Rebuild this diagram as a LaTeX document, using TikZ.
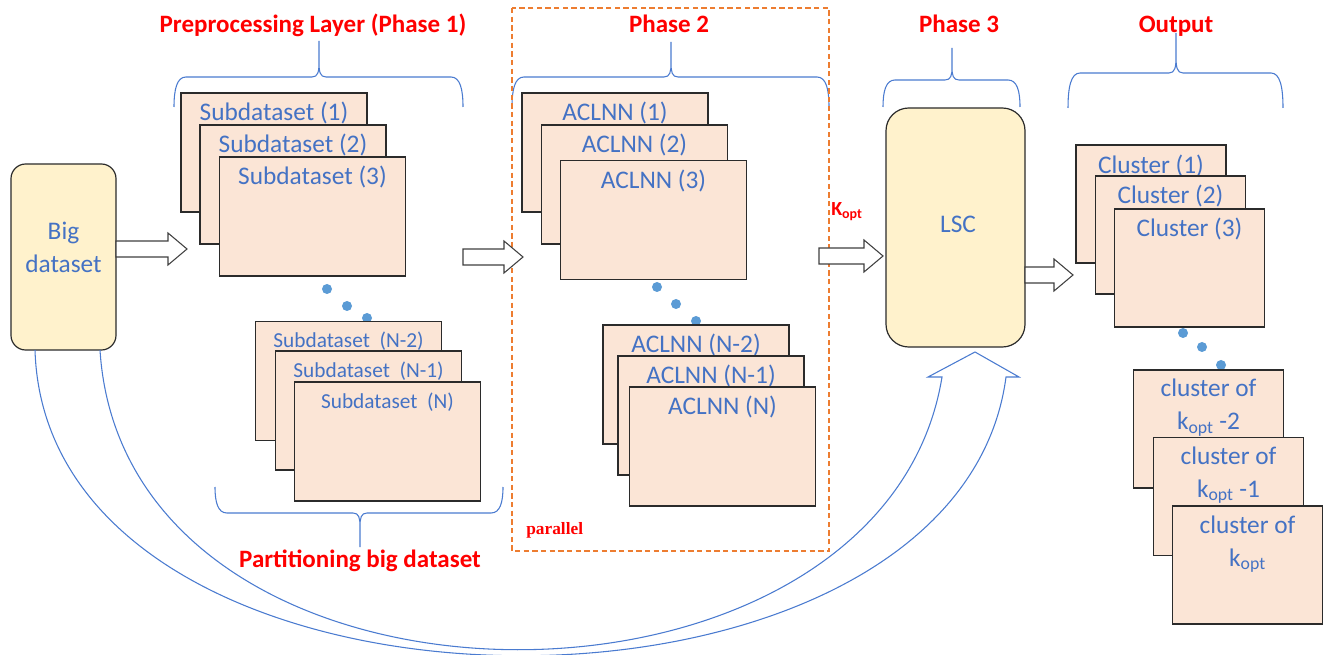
\documentclass[tikz,border=0pt]{standalone}
\usepackage{fontspec}
\setmainfont{Carlito}
\newfontfamily\parfont{Liberation Serif}
\usetikzlibrary{calc}
\definecolor{txtblue}{HTML}{4472C4}
\definecolor{brblue}{HTML}{4A7BD0}
\definecolor{peach}{HTML}{FBE5D6}
\definecolor{cream}{HTML}{FFF2CC}
\definecolor{dotblue}{HTML}{5B9BD5}
\definecolor{dashor}{HTML}{ED7D31}
\definecolor{edgec}{HTML}{2B2B2B}
\definecolor{shadowc}{HTML}{BFBFBF}
\newcommand\drawbrace[6]{% xl xc xr yb yf yt
  \draw[bracestyle] (#1,#4) .. controls (#1,{#4+0.6*(#5-#4)}) and ({#1+3},#5) .. ({#1+12},#5)
    -- ({#2-7},#5) .. controls ({#2-1},#5) and (#2,{#5+0.15*(#6-#5)}) .. (#2,{#5+0.4*(#6-#5)})
    -- (#2,#6) -- (#2,{#5+0.4*(#6-#5)})
    .. controls (#2,{#5+0.15*(#6-#5)}) and ({#2+1},#5) .. ({#2+7},#5)
    -- ({#3-12},#5) .. controls ({#3-3},#5) and (#3,{#4+0.6*(#5-#4)}) .. (#3,#4);}
\newcommand\hollowarrow[2]{% start, tip
  \draw[hollow] ($(#1)+(0,-8)$) -- ($(#2)+(-19,-8)$) -- ($(#2)+(-19,-16)$) -- (#2)
    -- ($(#2)+(-19,16)$) -- ($(#2)+(-19,8)$) -- ($(#1)+(0,8)$) -- cycle;}
\begin{document}
\begin{tikzpicture}[x=0.75pt,y=-0.75pt,
  sheet/.style={draw=edgec, line width=0.9pt, fill=peach, inner sep=0pt, outer sep=0pt,
    minimum width=139.5pt, minimum height=89.25pt},
  csheet/.style={sheet, minimum width=112.5pt, minimum height=88.5pt},
  roundbox/.style={draw=edgec, line width=0.9pt, fill=cream, inner sep=0pt, outer sep=0pt},
  bodytxt/.style={text=txtblue, font=\fontsize{19}{23}\selectfont, inner sep=0pt},
  smalltxt/.style={text=txtblue, font=\fontsize{16}{19}\selectfont, inner sep=0pt},
  titletxt/.style={text=red, font=\fontsize{18.75}{22}\selectfont\bfseries, inner sep=0pt, anchor=base},
  hollow/.style={draw=black!75, line width=0.8pt, fill=white, line join=miter},
  bracestyle/.style={draw=brblue, line width=0.8pt},
  curvearrow/.style={draw=brblue, line width=0.8pt, line join=miter},
  dotc/.style={fill=dotblue},
  dashedbox/.style={draw=dashor, line width=0.9pt, dash pattern=on 4pt off 2.5pt}
]
\fill[white] (0,0) rectangle (1330,655);
\useasboundingbox (0,0) rectangle (1330,655);

% titles
\node[titletxt] (t1) at (313,33) {Preprocessing Layer (Phase 1)};
\node[titletxt] (t2) at (669,33) {Phase 2};
\node[titletxt] (t3) at (959,33) {Phase 3};
\node[titletxt] (t4) at (1176,33) {Output};
\node[titletxt] (t5) at (360,567) {Partitioning big dataset};

% braces
\drawbrace{174}{319}{463}{107}{77}{41}
\drawbrace{512}{671}{829}{107}{77}{42}
\drawbrace{883}{952}{1020}{107}{80}{48}
\drawbrace{1068}{1176}{1283}{108}{73}{33}
\drawbrace{215}{360}{503}{487}{513}{547}

% parallel box
\draw[dashedbox] (512,8) rectangle (829,551);
\node[text=red, font=\parfont\bfseries\fontsize{13}{15}\selectfont, inner sep=0pt, anchor=base west] (par) at (526,534) {parallel};

% dots
\foreach \x/\y in {327/289,347/306,367/318,657/287,676/304,696/321,1183/333,1202/347,1221/365}
  \fill[dotc] (\x,\y) circle[radius=5];

% big dataset and LSC
\node[roundbox, rounded corners=11pt, minimum width=78.75pt, minimum height=139.5pt] (big) at (63.5,257) {};
\node[bodytxt, anchor=base] (bigA) at (63.5,240) {Big};
\node[bodytxt, anchor=base] (bigB) at (63.5,273) {dataset};
\node[roundbox, rounded corners=17pt, minimum width=104.25pt, minimum height=179.25pt] (lsc) at (955.5,227.5) {};
\node[bodytxt, anchor=base] (lscT) at (958,233) {LSC};

% phase 1 sheets
\node[sheet] (s1) at (274,152.5) {};
\node[bodytxt] (s1t) at ($(s1.north)+(0,20)$) {Subdataset (1)};
\node[sheet] (s2) at (293,184.5) {};
\node[bodytxt] (s2t) at ($(s2.north)+(0,20)$) {Subdataset (2)};
\node[sheet] (s3) at (312.5,216.5) {};
\node[bodytxt] (s3t) at ($(s3.north)+(0,20)$) {Subdataset (3)};
\node[sheet] (sn2) at (348.5,381) {};
\node[smalltxt] (sn2t) at ($(sn2.north)+(0,20)$) {Subdataset\ \ (N-2)};
\node[sheet] (sn1) at (368.5,410.5) {};
\node[smalltxt] (sn1t) at ($(sn1.north)+(0,20)$) {Subdataset\ \ (N-1)};
\node[sheet] (sn) at (387.5,441.5) {};
\node[smalltxt] (snt) at ($(sn.north)+(0,20)$) {Subdataset\ \ (N)};

% phase 2 sheets
\node[sheet] (n1) at (615,152.5) {};
\node[bodytxt] (n1t) at ($(n1.north)+(0,20)$) {ACLNN (1)};
\node[sheet] (n2) at (634.5,184.5) {};
\node[bodytxt] (n2t) at ($(n2.north)+(0,20)$) {ACLNN (2)};
\node[sheet] (n3) at (653.5,220) {};
\node[bodytxt] (n3t) at ($(n3.north)+(0,20)$) {ACLNN (3)};
\node[sheet] (nn2) at (696,384.5) {};
\node[bodytxt] (nn2t) at ($(nn2.north)+(0,20)$) {ACLNN (N-2)};
\node[sheet] (nn1) at (711,415.5) {};
\node[bodytxt] (nn1t) at ($(nn1.north)+(0,20)$) {ACLNN (N-1)};
\node[sheet] (nn) at (722.5,446.5) {};
\node[bodytxt] (nnt) at ($(nn.north)+(0,20)$) {ACLNN (N)};

% output sheets
\node[csheet] (c1) at (1151,204) {};
\node[bodytxt] (c1t) at ($(c1.north)+(0,21)$) {Cluster (1)};
\node[csheet] (c2) at (1170.5,235) {};
\node[bodytxt] (c2t) at ($(c2.north)+(0,20)$) {Cluster (2)};
\node[csheet] (c3) at (1189.5,268) {};
\node[bodytxt] (c3t) at ($(c3.north)+(0,20)$) {Cluster (3)};
\node[csheet] (k2) at (1208.5,429) {};
\node[bodytxt, anchor=base] (k2a) at ($(k2.north)+(0,27)$) {cluster of};
\node[bodytxt, anchor=base] (k2b) at ($(k2.north)+(0,60)$) {k\textsubscript{opt} -2};
\node[csheet] (k1) at (1228.5,496.5) {};
\node[bodytxt, anchor=base] (k1a) at ($(k1.north)+(0,27)$) {cluster of};
\node[bodytxt, anchor=base] (k1b) at ($(k1.north)+(0,60)$) {k\textsubscript{opt} -1};
\node[csheet] (k0) at (1247.5,565) {};
\node[bodytxt, anchor=base] (k0a) at ($(k0.north)+(0,27)$) {cluster of};
\node[bodytxt, anchor=base] (k0b) at ($(k0.north)+(0,60)$) {k\textsubscript{opt}};

% kopt label
\node[text=red, font=\fontsize{15}{17}\selectfont\bfseries, inner sep=0pt, anchor=base west] (kopt) at (831,216) {K\textsubscript{opt}};

% block arrows
\coordinate (a1t) at (187,249);
\coordinate (a1s) at (big.east |- a1t);
\hollowarrow{a1s}{a1t}
\coordinate (a2s) at (463,257);
\coordinate (a2t) at (523,257);
\hollowarrow{a2s}{a2t}
\coordinate (a3s) at (819,256);
\coordinate (a3t) at ($(lsc.west)+(-3,28.5)$);
\hollowarrow{a3s}{a3t}
\coordinate (a4s) at ($(lsc.east)+(0,47.5)$);
\coordinate (a4t) at (1073,275);
\hollowarrow{a4s}{a4t}

% big curved hollow arrow from Big dataset to LSC
\coordinate (ci) at (big.south -| 100,0);
\coordinate (co) at (big.south -| 35,0);
\coordinate (tip) at ($(lsc.south)+(19.5,5)$);
\draw[curvearrow] (ci) .. controls (125,745) and (882,745) .. (942,377)
  -- (928,377) -- (tip) -- (1019,377) -- (1006,377)
  .. controls (956,756) and (47,750) .. (co);
\end{tikzpicture}
\end{document}
